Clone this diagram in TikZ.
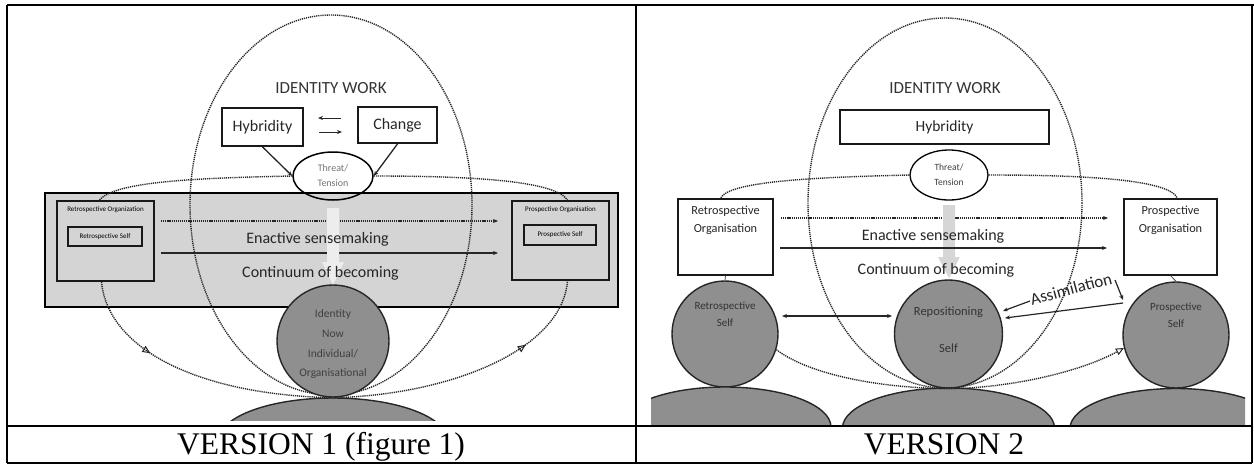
\documentclass[tikz,border=0pt]{standalone}
\usepackage{fontspec}
\setmainfont{Carlito}
\newfontfamily\capfont{Liberation Serif}
\usetikzlibrary{shapes.geometric,arrows.meta,decorations.markings,calc}
\newcommand\fsz[1]{\fontsize{#1}{#1}\selectfont}

\begin{document}
\begin{tikzpicture}[x=1pt,y=-1pt,
  frame/.style={line width=2pt},
  dotln/.style={line width=1.4pt, dash pattern=on 1.2pt off 0.9pt, black!85},
  dotell/.style={ellipse, draw, line width=1.4pt, dash pattern=on 1.2pt off 0.9pt, draw=black!85, inner sep=0pt},
  band/.style={draw, line width=1.8pt, fill=black!17, inner sep=0pt},
  boxa/.style={draw=black!90, line width=1.8pt, inner sep=0pt},
  boxb/.style={draw=black!90, line width=1.2pt, fill=white, inner sep=0pt},
  threat/.style={ellipse, draw, inner sep=0pt},
  person/.style={circle, draw, line width=1.4pt, fill=black!44, draw=black!85, inner sep=0pt},
  torso/.style={ellipse, draw, line width=1.4pt, fill=black!44, draw=black!85, inner sep=0pt},
  arr/.style={line width=1.2pt, black!85, -{Stealth[length=5pt,width=4pt]}},
  lbl/.style={inner sep=0pt},
  midtri/.style={postaction={decorate, decoration={markings,
      mark=at position #1 with {\arrow{Triangle[open,length=8pt,width=7pt,line width=1pt]}}}}},
  endtri/.style={-{Triangle[open,length=8pt,width=7pt,line width=1pt]}}
]
\useasboundingbox (0,0) rectangle (1254,466);

% ---------------- table frame ----------------
\draw[line width=1.2pt] (7,5) -- (1252,5);
\draw[line width=2.2pt] (7,5) -- (20,5);
\draw[line width=2.2pt] (628,5) -- (650,5);
\draw[line width=2.2pt] (1245,5) -- (1254,5);
\draw[frame] (7,5) -- (7,463);
\draw[frame] (636,5) -- (636,463);
\draw[frame] (1252,5) -- (1252,463);
\draw[line width=2.5pt] (7,426) -- (1252,426);
\draw[frame] (7,463) -- (1252,463);

\node[font=\capfont\fsz{31.5}, anchor=base, lbl] (cap1) at (321,454) {VERSION 1 (figure 1)};
\node[font=\capfont\fsz{31.5}, anchor=base, lbl] (cap2) at (944,454) {VERSION 2};

% ================= left panel =================
\node[band, minimum width=573pt, minimum height=114pt] (band1) at (331.5,250) {};

\node[dotell, minimum width=282pt, minimum height=380pt] (iw1) at (331,205) {};
\node[anchor=base, font=\fsz{17}, text=black!80, lbl] (iwt1) at (331,93) {IDENTITY WORK};

\node[boxa, minimum width=81pt, minimum height=38pt, font=\fsz{16}, text=black!85] (hyb1) at (262.5,127) {Hybridity};
\node[boxa, minimum width=79pt, minimum height=36pt, font=\fsz{16}, text=black!85] (chg1) at (397.5,125) {Change};

\coordinate (xa1) at (341,118); \coordinate (xa2) at (318,118);
\coordinate (xb1) at (319,132); \coordinate (xb2) at (342,132);
\draw[arr, line width=0.9pt] (xa1) -- (xa2);
\draw[arr, line width=0.9pt] (xb1) -- (xb2);

\node[threat, line width=1.5pt, minimum width=80pt, minimum height=48pt] (thr1) at (333,176) {};
\node[font=\fsz{10}, text=black!55, lbl] (thr1a) at (333,168) {Threat/};
\node[font=\fsz{10}, text=black!55, lbl] (thr1b) at (333,183) {Tension};
\draw[arr, line width=1.3pt] (hyb1.south) -- (thr1.west);
\draw[arr, line width=1.3pt] (chg1.south) -- (thr1.east);

% organisation boxes with the self boxes inside
\node[boxa, minimum width=97pt, minimum height=80pt] (ro1) at (105.5,241) {};
\node[font=\fsz{7}, lbl] (ro1t) at (105.5,210) {Retrospective Organization};
\node[boxa, minimum width=74pt, minimum height=19pt, font=\fsz{7}] (rs1) at (105,236.5) {Retrospective Self};
\node[boxa, minimum width=97pt, minimum height=79pt] (po1) at (560.5,240.5) {};
\node[font=\fsz{7}, lbl] (po1t) at (560.5,210) {Prospective Organisation};
\node[boxa, minimum width=72pt, minimum height=20pt, font=\fsz{7}] (ps1) at (560,235) {Prospective Self};

% sensemaking arrows
\coordinate (d1s) at (161,221); \coordinate (d1e) at (498,221);
\coordinate (s1s) at (161,253); \coordinate (s1e) at (498,253);
\draw[dotln, -{Stealth[length=5pt,width=4pt]}] (d1s) -- (d1e);
\draw[arr] (s1s) -- (s1e);
\fill[black!7] (327,208) -- (339,208) -- (339,262) -- (344,262) -- (333,285) -- (322,262) -- (327,262) -- cycle;
\node[anchor=base, font=\fsz{16}, text=black!85, lbl] (en1) at (317.5,243) {Enactive sensemaking};
\node[anchor=base, font=\fsz{16}, text=black!85, lbl] (co1) at (320.5,277) {Continuum of becoming};

% dotted loops
\draw[dotln] (thr1.west) .. controls (200,178) and (115,181) .. ([xshift=-6pt]ro1.north);
\draw[dotln] (thr1.east) .. controls (465,176) and (555,180) .. ([xshift=7pt]po1.north);

% identity figure
\node[person, minimum size=112pt] (id1) at (333,341) {};
\begin{scope}
  \clip (7,0) rectangle (636,420);
  \node[torso, minimum width=228pt, minimum height=84pt] (bd1) at (333,440) {};
\end{scope}
\draw[dotln, midtri=0.32] ([xshift=-4pt]ro1.south) .. controls (108,350) and (200,395) .. (id1.south);
\draw[dotln, midtri=0.72] (id1.south) .. controls (450,395) and (562,350) .. ([xshift=7pt]po1.south);
\node[anchor=base, font=\fsz{11.5}, text=black!75, lbl] (id1a) at (333,317) {Identity};
\node[anchor=base, font=\fsz{11.5}, text=black!75, lbl] (id1b) at (333,337) {Now};
\node[anchor=base, font=\fsz{11.5}, text=black!75, lbl] (id1c) at (333,357) {Individual/};
\node[anchor=base, font=\fsz{11.5}, text=black!75, lbl] (id1d) at (333,376) {Organisational};

% ================= right panel =================
\node[dotell, minimum width=274pt, minimum height=370pt] (iw2) at (945,203) {};
\node[anchor=base, font=\fsz{17}, text=black!80, lbl] (iwt2) at (945,93) {IDENTITY WORK};
\node[boxb, minimum width=209pt, minimum height=34pt, font=\fsz{15.5}, text=black!85] (hyb2) at (944.5,127) {Hybridity};

\node[threat, line width=1.3pt, fill=white, minimum width=78pt, minimum height=50pt] (thr2) at (949,175) {};
\node[font=\fsz{9.5}, text=black!75, lbl] (thr2a) at (949,167) {Threat/};
\node[font=\fsz{9.5}, text=black!75, lbl] (thr2b) at (949,182) {Tension};

\node[boxb, minimum width=95pt, minimum height=76pt] (ro2) at (725.5,237) {};
\node[font=\fsz{12.3}, text=black!85, lbl] (ro2a) at (725.5,211) {Retrospective};
\node[font=\fsz{12.3}, text=black!85, lbl] (ro2b) at (725.5,229) {Organisation};
\node[boxb, minimum width=93pt, minimum height=76pt] (po2) at (1170.5,237) {};
\node[font=\fsz{12.3}, text=black!85, lbl] (po2a) at (1170.5,211) {Prospective};
\node[font=\fsz{12.3}, text=black!85, lbl] (po2b) at (1170.5,229) {Organisation};

\coordinate (d2s) at (781,218); \coordinate (d2e) at (1108,218);
\coordinate (s2s) at (780,248); \coordinate (s2e) at (1107,248);
\draw[dotln, -{Stealth[length=5pt,width=4pt]}] (d2s) -- (d2e);
\fill[black!16] (943,205) -- (955,205) -- (955,257) -- (960,257) -- (949,278) -- (938,257) -- (943,257) -- cycle;
\draw[arr] (s2s) -- (s2e);
\node[anchor=base, font=\fsz{16}, text=black!85, lbl] (en2) at (933,240) {Enactive sensemaking};
\node[anchor=base, font=\fsz{16}, text=black!85, lbl] (co2) at (936,274) {Continuum of becoming};

\draw[dotln] (thr2.west) .. controls (830,177) and (728,180) .. ([xshift=-5pt]ro2.north);
\draw[dotln] (thr2.east) .. controls (1090,175) and (1170,180) .. ([xshift=7pt]po2.north);

% three figures
\node[person, minimum size=106pt] (rs2) at (725,334) {};
\node[person, minimum size=108pt] (rp2) at (948.5,334) {};
\node[person, minimum size=106pt] (ps2) at (1176,335) {};
\begin{scope}
  \clip (651,0) rectangle (1245,424);
  \node[torso, minimum width=212pt, minimum height=80pt] (bd2a) at (725,427) {};
  \node[torso, minimum width=212pt, minimum height=80pt] (bd2b) at (948.5,428) {};
  \node[torso, minimum width=212pt, minimum height=80pt] (bd2c) at (1176,428.5) {};
\end{scope}
\draw[line width=0.8pt, black!70] (ro2.south) -- (rs2.north);
\draw[line width=0.8pt, black!70] (po2.south) -- (ps2.north);

\node[font=\fsz{11}, text=black!80, lbl] (rs2a) at (725,307) {Retrospective};
\node[font=\fsz{11}, text=black!80, lbl] (rs2b) at (725,323) {Self};
\node[font=\fsz{12.5}, text=black!80, lbl] (rp2a) at (948.5,312) {Repositioning};
\node[font=\fsz{12.5}, text=black!80, lbl] (rp2b) at (948.5,348) {Self};
\node[font=\fsz{11}, text=black!80, lbl] (ps2a) at (1176,308) {Prospective};
\node[font=\fsz{11}, text=black!80, lbl] (ps2b) at (1176,324) {Self};

\draw[dotln] (rs2.-17) .. controls (810,375) and (880,388) .. (rp2.south);
\draw[dotln, endtri] (rp2.south) .. controls (1010,388) and (1080,372) .. (ps2.194);

\coordinate (da1) at (782,316); \coordinate (da2) at (892,316);
\draw[line width=1.2pt, black!85, {Stealth[length=5pt,width=4pt]}-{Stealth[length=5pt,width=4pt]}] (da1) -- (da2);

% assimilation arrows
\coordinate (as1) at (1115,280); \coordinate (as2) at (1123,300);
\coordinate (al1) at (1030,301); \coordinate (al2) at (1003,311);
\coordinate (lg1) at (1123,303); \coordinate (lg2) at (1005,318);
\draw[arr] (as1) -- (as2);
\draw[arr] (al1) -- (al2);
\draw[arr] (lg1) -- (lg2);
\node[font=\fsz{17}, text=black!85, rotate=15, lbl] (asm) at (1071,289) {Assimilation};
\end{tikzpicture}
\end{document}
